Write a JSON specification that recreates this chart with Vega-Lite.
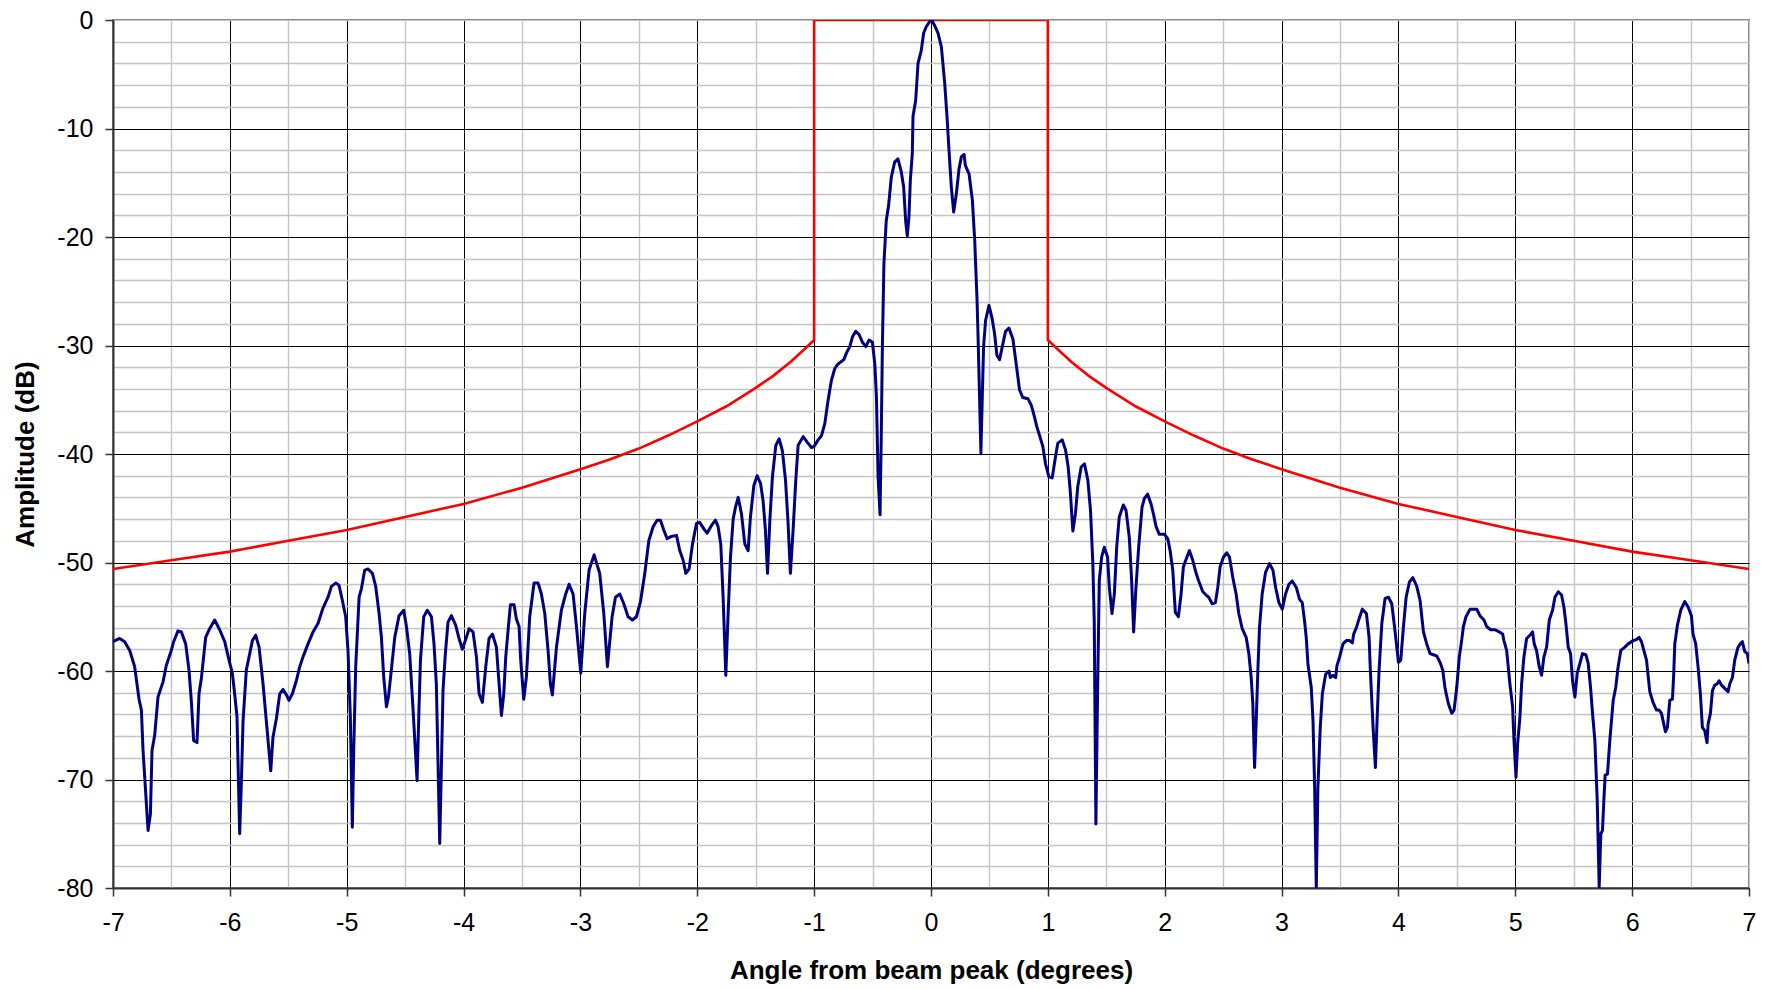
{
  "$schema": "https://vega.github.io/schema/vega-lite/v6.json",
  "width": 1636,
  "height": 868,
  "autosize": {"type": "none"},
  "padding": {"left": 113, "top": 20, "right": 20, "bottom": 101},
  "background": "white",
  "config": {
    "view": {"stroke": "#8c8c8c", "strokeWidth": 2},
    "axis": {
      "labelFont": "Liberation Sans",
      "titleFont": "Liberation Sans",
      "labelFontSize": 25,
      "titleFontSize": 26,
      "titleFontWeight": "bold",
      "labelColor": "#000",
      "titleColor": "#000",
      "domainColor": "#333",
      "domainWidth": 2,
      "tickColor": "#333",
      "tickWidth": 1.5,
      "tickSize": 8,
      "gridWidth": 1.2
    }
  },
  "datasets": {
    "mask": [
      {"i": 0, "x": -7, "y": -50.6}, {"i": 1, "x": -6.5, "y": -49.8}, {"i": 2, "x": -6, "y": -49.0},
      {"i": 3, "x": -5.5, "y": -48.0}, {"i": 4, "x": -5, "y": -47.0}, {"i": 5, "x": -4.5, "y": -45.8},
      {"i": 6, "x": -4, "y": -44.6}, {"i": 7, "x": -3.5, "y": -43.1}, {"i": 8, "x": -3, "y": -41.4},
      {"i": 9, "x": -2.75, "y": -40.5}, {"i": 10, "x": -2.5, "y": -39.5}, {"i": 11, "x": -2.25, "y": -38.3},
      {"i": 12, "x": -2, "y": -37.0}, {"i": 13, "x": -1.75, "y": -35.6}, {"i": 14, "x": -1.5, "y": -33.9},
      {"i": 15, "x": -1.35, "y": -32.8}, {"i": 16, "x": -1.2, "y": -31.5}, {"i": 17, "x": -1.1, "y": -30.5},
      {"i": 18, "x": -1, "y": -29.5}, {"i": 19, "x": -1, "y": 0}, {"i": 20, "x": 1, "y": 0},
      {"i": 21, "x": 1, "y": -29.5}, {"i": 22, "x": 1.1, "y": -30.5}, {"i": 23, "x": 1.2, "y": -31.5},
      {"i": 24, "x": 1.35, "y": -32.8}, {"i": 25, "x": 1.5, "y": -33.9}, {"i": 26, "x": 1.75, "y": -35.6},
      {"i": 27, "x": 2, "y": -37.0}, {"i": 28, "x": 2.25, "y": -38.3}, {"i": 29, "x": 2.5, "y": -39.5},
      {"i": 30, "x": 2.75, "y": -40.5}, {"i": 31, "x": 3, "y": -41.4}, {"i": 32, "x": 3.5, "y": -43.1},
      {"i": 33, "x": 4, "y": -44.6}, {"i": 34, "x": 4.5, "y": -45.8}, {"i": 35, "x": 5, "y": -47.0},
      {"i": 36, "x": 5.5, "y": -48.0}, {"i": 37, "x": 6, "y": -49.0}, {"i": 38, "x": 6.5, "y": -49.8},
      {"i": 39, "x": 7, "y": -50.6}
    ],
    "pattern": [
      {"x": -7.000, "y": -57.3}, {"x": -6.943, "y": -57.0}, {"x": -6.900, "y": -57.3}, {"x": -6.857, "y": -58.1},
      {"x": -6.815, "y": -59.6}, {"x": -6.777, "y": -62.6}, {"x": -6.757, "y": -63.6}, {"x": -6.743, "y": -67.3},
      {"x": -6.700, "y": -74.7}, {"x": -6.680, "y": -73.2}, {"x": -6.666, "y": -67.3}, {"x": -6.643, "y": -65.9},
      {"x": -6.615, "y": -62.4}, {"x": -6.572, "y": -61.0}, {"x": -6.544, "y": -59.5}, {"x": -6.501, "y": -58.1},
      {"x": -6.481, "y": -57.3}, {"x": -6.444, "y": -56.3}, {"x": -6.415, "y": -56.4}, {"x": -6.378, "y": -57.5},
      {"x": -6.350, "y": -59.9}, {"x": -6.330, "y": -62.7}, {"x": -6.310, "y": -66.4}, {"x": -6.281, "y": -66.6},
      {"x": -6.264, "y": -62.1}, {"x": -6.244, "y": -60.7}, {"x": -6.207, "y": -56.9}, {"x": -6.173, "y": -56.1},
      {"x": -6.130, "y": -55.3}, {"x": -6.087, "y": -56.2}, {"x": -6.044, "y": -57.3}, {"x": -6.007, "y": -59.0},
      {"x": -5.979, "y": -60.2}, {"x": -5.959, "y": -62.1}, {"x": -5.939, "y": -64.2}, {"x": -5.916, "y": -75.0},
      {"x": -5.902, "y": -70.4}, {"x": -5.887, "y": -64.6}, {"x": -5.859, "y": -59.9}, {"x": -5.830, "y": -58.4},
      {"x": -5.807, "y": -57.2}, {"x": -5.779, "y": -56.7}, {"x": -5.750, "y": -57.8}, {"x": -5.716, "y": -61.2},
      {"x": -5.688, "y": -64.6}, {"x": -5.650, "y": -69.2}, {"x": -5.631, "y": -66.1}, {"x": -5.602, "y": -64.4},
      {"x": -5.573, "y": -62.1}, {"x": -5.545, "y": -61.7}, {"x": -5.516, "y": -62.2}, {"x": -5.494, "y": -62.7},
      {"x": -5.465, "y": -62.1}, {"x": -5.431, "y": -60.9}, {"x": -5.402, "y": -59.6}, {"x": -5.374, "y": -58.7},
      {"x": -5.331, "y": -57.5}, {"x": -5.288, "y": -56.4}, {"x": -5.245, "y": -55.6}, {"x": -5.203, "y": -54.2},
      {"x": -5.160, "y": -53.2}, {"x": -5.131, "y": -52.2}, {"x": -5.094, "y": -51.9}, {"x": -5.066, "y": -52.1},
      {"x": -5.037, "y": -53.5}, {"x": -5.009, "y": -55.0}, {"x": -4.989, "y": -58.1}, {"x": -4.969, "y": -64.2},
      {"x": -4.952, "y": -74.4}, {"x": -4.940, "y": -67.3}, {"x": -4.923, "y": -59.6}, {"x": -4.894, "y": -53.2},
      {"x": -4.874, "y": -52.4}, {"x": -4.846, "y": -50.7}, {"x": -4.817, "y": -50.6}, {"x": -4.780, "y": -51.0},
      {"x": -4.752, "y": -52.2}, {"x": -4.723, "y": -54.7}, {"x": -4.703, "y": -56.9}, {"x": -4.683, "y": -60.6},
      {"x": -4.660, "y": -63.3}, {"x": -4.643, "y": -62.4}, {"x": -4.618, "y": -59.9}, {"x": -4.589, "y": -56.9},
      {"x": -4.552, "y": -54.9}, {"x": -4.512, "y": -54.4}, {"x": -4.489, "y": -55.9}, {"x": -4.461, "y": -58.4},
      {"x": -4.432, "y": -63.6}, {"x": -4.398, "y": -70.1}, {"x": -4.381, "y": -63.3}, {"x": -4.369, "y": -59.0},
      {"x": -4.341, "y": -55.0}, {"x": -4.310, "y": -54.4}, {"x": -4.275, "y": -55.0}, {"x": -4.253, "y": -57.5},
      {"x": -4.233, "y": -61.2}, {"x": -4.204, "y": -75.9}, {"x": -4.190, "y": -68.9}, {"x": -4.176, "y": -61.8},
      {"x": -4.156, "y": -58.4}, {"x": -4.133, "y": -55.5}, {"x": -4.104, "y": -54.9}, {"x": -4.067, "y": -55.8},
      {"x": -4.039, "y": -57.0}, {"x": -4.010, "y": -58.0}, {"x": -3.976, "y": -56.9}, {"x": -3.953, "y": -56.1},
      {"x": -3.919, "y": -56.4}, {"x": -3.890, "y": -58.7}, {"x": -3.867, "y": -62.1}, {"x": -3.839, "y": -62.9},
      {"x": -3.810, "y": -59.6}, {"x": -3.782, "y": -57.0}, {"x": -3.753, "y": -56.6}, {"x": -3.719, "y": -57.8},
      {"x": -3.696, "y": -61.2}, {"x": -3.676, "y": -64.1}, {"x": -3.656, "y": -62.1}, {"x": -3.639, "y": -58.7},
      {"x": -3.619, "y": -56.2}, {"x": -3.599, "y": -53.9}, {"x": -3.568, "y": -53.9}, {"x": -3.548, "y": -55.2},
      {"x": -3.525, "y": -55.9}, {"x": -3.511, "y": -59.0}, {"x": -3.485, "y": -62.6}, {"x": -3.462, "y": -60.5},
      {"x": -3.434, "y": -55.0}, {"x": -3.397, "y": -51.9}, {"x": -3.362, "y": -51.9}, {"x": -3.334, "y": -52.9},
      {"x": -3.305, "y": -54.7}, {"x": -3.277, "y": -58.1}, {"x": -3.257, "y": -61.2}, {"x": -3.240, "y": -62.2},
      {"x": -3.205, "y": -57.8}, {"x": -3.163, "y": -54.4}, {"x": -3.126, "y": -52.9}, {"x": -3.097, "y": -52.0},
      {"x": -3.063, "y": -52.9}, {"x": -3.034, "y": -55.9}, {"x": -2.997, "y": -60.2}, {"x": -2.963, "y": -54.7},
      {"x": -2.926, "y": -50.7}, {"x": -2.883, "y": -49.3}, {"x": -2.835, "y": -51.0}, {"x": -2.800, "y": -54.7},
      {"x": -2.769, "y": -59.6}, {"x": -2.729, "y": -55.0}, {"x": -2.700, "y": -53.2}, {"x": -2.663, "y": -52.9},
      {"x": -2.629, "y": -53.8}, {"x": -2.592, "y": -55.0}, {"x": -2.555, "y": -55.3}, {"x": -2.521, "y": -55.0},
      {"x": -2.486, "y": -53.6}, {"x": -2.449, "y": -51.0}, {"x": -2.415, "y": -48.0}, {"x": -2.378, "y": -46.7},
      {"x": -2.344, "y": -46.1}, {"x": -2.315, "y": -46.1}, {"x": -2.287, "y": -47.0}, {"x": -2.258, "y": -47.8},
      {"x": -2.221, "y": -47.6}, {"x": -2.178, "y": -47.5}, {"x": -2.150, "y": -48.9}, {"x": -2.121, "y": -49.8},
      {"x": -2.098, "y": -51.0}, {"x": -2.070, "y": -50.6}, {"x": -2.041, "y": -48.3}, {"x": -2.007, "y": -46.4},
      {"x": -1.979, "y": -46.3}, {"x": -1.944, "y": -46.9}, {"x": -1.916, "y": -47.3}, {"x": -1.879, "y": -46.6},
      {"x": -1.845, "y": -46.1}, {"x": -1.822, "y": -46.7}, {"x": -1.799, "y": -48.3}, {"x": -1.779, "y": -53.2},
      {"x": -1.756, "y": -60.4}, {"x": -1.736, "y": -54.7}, {"x": -1.716, "y": -49.5}, {"x": -1.693, "y": -46.0},
      {"x": -1.673, "y": -44.9}, {"x": -1.650, "y": -44.0}, {"x": -1.622, "y": -45.5}, {"x": -1.593, "y": -48.3},
      {"x": -1.565, "y": -48.9}, {"x": -1.545, "y": -45.8}, {"x": -1.516, "y": -42.9}, {"x": -1.488, "y": -42.0},
      {"x": -1.459, "y": -42.7}, {"x": -1.437, "y": -44.3}, {"x": -1.417, "y": -47.0}, {"x": -1.399, "y": -51.0},
      {"x": -1.379, "y": -46.1}, {"x": -1.357, "y": -42.1}, {"x": -1.328, "y": -39.2}, {"x": -1.299, "y": -38.6},
      {"x": -1.272, "y": -39.7}, {"x": -1.245, "y": -42.4}, {"x": -1.223, "y": -46.4}, {"x": -1.203, "y": -51.0},
      {"x": -1.180, "y": -47.0}, {"x": -1.157, "y": -42.4}, {"x": -1.137, "y": -39.2}, {"x": -1.094, "y": -38.4},
      {"x": -1.060, "y": -38.9}, {"x": -1.023, "y": -39.4}, {"x": -1.000, "y": -39.3}, {"x": -0.966, "y": -38.7},
      {"x": -0.937, "y": -38.3}, {"x": -0.909, "y": -37.2}, {"x": -0.880, "y": -35.0}, {"x": -0.852, "y": -33.2},
      {"x": -0.823, "y": -32.1}, {"x": -0.795, "y": -31.7}, {"x": -0.746, "y": -31.3}, {"x": -0.724, "y": -30.7},
      {"x": -0.695, "y": -30.1}, {"x": -0.672, "y": -29.2}, {"x": -0.644, "y": -28.7}, {"x": -0.615, "y": -29.0},
      {"x": -0.587, "y": -29.7}, {"x": -0.558, "y": -30.1}, {"x": -0.530, "y": -29.5}, {"x": -0.501, "y": -29.7},
      {"x": -0.481, "y": -31.7}, {"x": -0.467, "y": -34.7}, {"x": -0.453, "y": -42.1}, {"x": -0.436, "y": -45.6},
      {"x": -0.425, "y": -37.8}, {"x": -0.416, "y": -30.1}, {"x": -0.403, "y": -22.5}, {"x": -0.383, "y": -18.5},
      {"x": -0.363, "y": -17.1}, {"x": -0.340, "y": -14.5}, {"x": -0.311, "y": -13.1}, {"x": -0.283, "y": -12.8},
      {"x": -0.254, "y": -14.0}, {"x": -0.234, "y": -15.4}, {"x": -0.217, "y": -18.5}, {"x": -0.203, "y": -19.9},
      {"x": -0.189, "y": -18.2}, {"x": -0.177, "y": -14.8}, {"x": -0.160, "y": -12.3}, {"x": -0.154, "y": -8.9},
      {"x": -0.131, "y": -7.4}, {"x": -0.111, "y": -4.0}, {"x": -0.083, "y": -2.8}, {"x": -0.063, "y": -1.2},
      {"x": -0.040, "y": -0.6}, {"x": -0.011, "y": -0.15}, {"x": 0.009, "y": -0.06}, {"x": 0.031, "y": -0.5},
      {"x": 0.060, "y": -1.2}, {"x": 0.089, "y": -2.5}, {"x": 0.117, "y": -5.8}, {"x": 0.137, "y": -8.9},
      {"x": 0.154, "y": -12.0}, {"x": 0.174, "y": -15.4}, {"x": 0.194, "y": -17.7}, {"x": 0.217, "y": -16.0},
      {"x": 0.240, "y": -13.7}, {"x": 0.260, "y": -12.6}, {"x": 0.283, "y": -12.4}, {"x": 0.294, "y": -13.4},
      {"x": 0.326, "y": -14.2}, {"x": 0.354, "y": -16.6}, {"x": 0.374, "y": -20.3}, {"x": 0.394, "y": -25.8},
      {"x": 0.405, "y": -30.1}, {"x": 0.427, "y": -39.9}, {"x": 0.439, "y": -34.7}, {"x": 0.450, "y": -30.1},
      {"x": 0.467, "y": -27.7}, {"x": 0.496, "y": -26.3}, {"x": 0.521, "y": -27.4}, {"x": 0.544, "y": -28.9},
      {"x": 0.564, "y": -30.9}, {"x": 0.587, "y": -31.3}, {"x": 0.610, "y": -30.1}, {"x": 0.638, "y": -28.7},
      {"x": 0.667, "y": -28.4}, {"x": 0.701, "y": -29.4}, {"x": 0.729, "y": -31.7}, {"x": 0.758, "y": -34.1},
      {"x": 0.786, "y": -34.8}, {"x": 0.829, "y": -34.9}, {"x": 0.858, "y": -35.5}, {"x": 0.886, "y": -36.6},
      {"x": 0.906, "y": -37.5}, {"x": 0.929, "y": -38.3}, {"x": 0.957, "y": -39.3}, {"x": 0.980, "y": -40.9},
      {"x": 1.009, "y": -42.1}, {"x": 1.037, "y": -42.2}, {"x": 1.066, "y": -40.2}, {"x": 1.085, "y": -39.0},
      {"x": 1.123, "y": -38.7}, {"x": 1.151, "y": -39.6}, {"x": 1.174, "y": -41.2}, {"x": 1.191, "y": -43.3},
      {"x": 1.214, "y": -47.1}, {"x": 1.236, "y": -45.5}, {"x": 1.256, "y": -43.0}, {"x": 1.285, "y": -41.2},
      {"x": 1.313, "y": -40.9}, {"x": 1.342, "y": -42.4}, {"x": 1.365, "y": -45.2}, {"x": 1.385, "y": -50.1},
      {"x": 1.397, "y": -55.4}, {"x": 1.411, "y": -74.1}, {"x": 1.426, "y": -61.5}, {"x": 1.440, "y": -51.7},
      {"x": 1.460, "y": -49.5}, {"x": 1.483, "y": -48.6}, {"x": 1.511, "y": -49.5}, {"x": 1.526, "y": -52.3},
      {"x": 1.549, "y": -54.7}, {"x": 1.569, "y": -52.9}, {"x": 1.589, "y": -48.6}, {"x": 1.611, "y": -45.8},
      {"x": 1.646, "y": -44.7}, {"x": 1.669, "y": -45.2}, {"x": 1.697, "y": -47.7}, {"x": 1.717, "y": -51.7},
      {"x": 1.734, "y": -56.4}, {"x": 1.754, "y": -52.3}, {"x": 1.777, "y": -48.6}, {"x": 1.806, "y": -44.9},
      {"x": 1.826, "y": -44.1}, {"x": 1.854, "y": -43.7}, {"x": 1.883, "y": -44.6}, {"x": 1.903, "y": -45.5},
      {"x": 1.926, "y": -46.7}, {"x": 1.954, "y": -47.4}, {"x": 1.997, "y": -47.4}, {"x": 2.026, "y": -47.8},
      {"x": 2.046, "y": -48.9}, {"x": 2.069, "y": -50.7}, {"x": 2.091, "y": -54.6}, {"x": 2.117, "y": -55.0},
      {"x": 2.140, "y": -52.9}, {"x": 2.160, "y": -50.4}, {"x": 2.183, "y": -49.7}, {"x": 2.211, "y": -48.9},
      {"x": 2.240, "y": -49.8}, {"x": 2.269, "y": -51.0}, {"x": 2.291, "y": -51.7}, {"x": 2.326, "y": -52.7},
      {"x": 2.354, "y": -53.0}, {"x": 2.377, "y": -53.2}, {"x": 2.406, "y": -53.8}, {"x": 2.434, "y": -53.7},
      {"x": 2.454, "y": -52.3}, {"x": 2.474, "y": -50.4}, {"x": 2.503, "y": -49.5}, {"x": 2.531, "y": -49.1},
      {"x": 2.554, "y": -49.5}, {"x": 2.583, "y": -51.4}, {"x": 2.611, "y": -52.9}, {"x": 2.634, "y": -54.7},
      {"x": 2.663, "y": -56.1}, {"x": 2.697, "y": -56.9}, {"x": 2.720, "y": -58.4}, {"x": 2.740, "y": -60.6},
      {"x": 2.754, "y": -63.0}, {"x": 2.769, "y": -68.9}, {"x": 2.783, "y": -64.6}, {"x": 2.797, "y": -60.0},
      {"x": 2.811, "y": -56.0}, {"x": 2.834, "y": -52.9}, {"x": 2.863, "y": -50.9}, {"x": 2.897, "y": -50.1},
      {"x": 2.926, "y": -50.7}, {"x": 2.949, "y": -52.3}, {"x": 2.977, "y": -53.7}, {"x": 3.006, "y": -54.3},
      {"x": 3.034, "y": -52.9}, {"x": 3.063, "y": -52.0}, {"x": 3.091, "y": -51.7}, {"x": 3.126, "y": -52.3},
      {"x": 3.154, "y": -53.4}, {"x": 3.177, "y": -53.7}, {"x": 3.197, "y": -55.4}, {"x": 3.211, "y": -56.9},
      {"x": 3.226, "y": -59.4}, {"x": 3.254, "y": -61.5}, {"x": 3.269, "y": -64.6}, {"x": 3.283, "y": -70.7},
      {"x": 3.297, "y": -80.0}, {"x": 3.311, "y": -70.7}, {"x": 3.331, "y": -65.2}, {"x": 3.349, "y": -62.1},
      {"x": 3.377, "y": -60.3}, {"x": 3.406, "y": -60.0}, {"x": 3.417, "y": -60.6}, {"x": 3.440, "y": -60.4},
      {"x": 3.463, "y": -60.6}, {"x": 3.474, "y": -59.5}, {"x": 3.497, "y": -58.7}, {"x": 3.511, "y": -58.1},
      {"x": 3.526, "y": -57.5}, {"x": 3.554, "y": -57.2}, {"x": 3.583, "y": -57.2}, {"x": 3.606, "y": -57.4},
      {"x": 3.617, "y": -56.6}, {"x": 3.640, "y": -56.0}, {"x": 3.663, "y": -55.2}, {"x": 3.691, "y": -54.3},
      {"x": 3.726, "y": -54.7}, {"x": 3.749, "y": -56.9}, {"x": 3.760, "y": -60.0}, {"x": 3.783, "y": -65.2},
      {"x": 3.803, "y": -68.9}, {"x": 3.817, "y": -64.6}, {"x": 3.834, "y": -60.0}, {"x": 3.858, "y": -55.6},
      {"x": 3.886, "y": -53.3}, {"x": 3.915, "y": -53.2}, {"x": 3.943, "y": -53.8}, {"x": 3.963, "y": -55.6},
      {"x": 3.980, "y": -57.2}, {"x": 4.000, "y": -59.2}, {"x": 4.020, "y": -59.0}, {"x": 4.043, "y": -55.9},
      {"x": 4.066, "y": -53.2}, {"x": 4.094, "y": -51.8}, {"x": 4.123, "y": -51.4}, {"x": 4.157, "y": -52.2},
      {"x": 4.185, "y": -53.5}, {"x": 4.214, "y": -56.4}, {"x": 4.242, "y": -57.5}, {"x": 4.271, "y": -58.4},
      {"x": 4.299, "y": -58.5}, {"x": 4.328, "y": -58.6}, {"x": 4.356, "y": -59.2}, {"x": 4.379, "y": -59.9},
      {"x": 4.399, "y": -61.6}, {"x": 4.427, "y": -63.0}, {"x": 4.456, "y": -63.9}, {"x": 4.476, "y": -63.6},
      {"x": 4.499, "y": -61.5}, {"x": 4.521, "y": -58.7}, {"x": 4.541, "y": -57.2}, {"x": 4.556, "y": -55.9},
      {"x": 4.578, "y": -55.0}, {"x": 4.613, "y": -54.3}, {"x": 4.670, "y": -54.3}, {"x": 4.698, "y": -54.9},
      {"x": 4.732, "y": -55.3}, {"x": 4.755, "y": -55.9}, {"x": 4.789, "y": -56.2}, {"x": 4.826, "y": -56.2},
      {"x": 4.863, "y": -56.4}, {"x": 4.892, "y": -56.6}, {"x": 4.903, "y": -57.2}, {"x": 4.926, "y": -58.1},
      {"x": 4.954, "y": -61.2}, {"x": 4.977, "y": -63.3}, {"x": 4.989, "y": -66.4}, {"x": 5.006, "y": -69.8},
      {"x": 5.020, "y": -66.7}, {"x": 5.040, "y": -64.2}, {"x": 5.054, "y": -61.2}, {"x": 5.074, "y": -58.7},
      {"x": 5.097, "y": -57.0}, {"x": 5.125, "y": -56.7}, {"x": 5.148, "y": -56.4}, {"x": 5.162, "y": -57.5},
      {"x": 5.182, "y": -58.1}, {"x": 5.205, "y": -59.6}, {"x": 5.225, "y": -60.4}, {"x": 5.245, "y": -58.7},
      {"x": 5.268, "y": -57.8}, {"x": 5.291, "y": -55.3}, {"x": 5.319, "y": -54.4}, {"x": 5.339, "y": -53.2},
      {"x": 5.368, "y": -52.7}, {"x": 5.396, "y": -53.0}, {"x": 5.416, "y": -54.1}, {"x": 5.433, "y": -55.6},
      {"x": 5.453, "y": -57.8}, {"x": 5.473, "y": -58.4}, {"x": 5.490, "y": -60.9}, {"x": 5.510, "y": -62.4},
      {"x": 5.530, "y": -60.2}, {"x": 5.553, "y": -59.3}, {"x": 5.575, "y": -58.4}, {"x": 5.604, "y": -58.5},
      {"x": 5.624, "y": -59.3}, {"x": 5.644, "y": -61.5}, {"x": 5.661, "y": -63.9}, {"x": 5.681, "y": -66.4},
      {"x": 5.701, "y": -71.9}, {"x": 5.718, "y": -79.9}, {"x": 5.732, "y": -75.0}, {"x": 5.746, "y": -74.7},
      {"x": 5.758, "y": -71.9}, {"x": 5.769, "y": -69.6}, {"x": 5.789, "y": -69.5}, {"x": 5.809, "y": -66.4},
      {"x": 5.838, "y": -62.7}, {"x": 5.860, "y": -61.5}, {"x": 5.880, "y": -59.6}, {"x": 5.903, "y": -58.1},
      {"x": 5.937, "y": -57.8}, {"x": 5.966, "y": -57.5}, {"x": 6.009, "y": -57.2}, {"x": 6.037, "y": -57.1},
      {"x": 6.060, "y": -56.9}, {"x": 6.080, "y": -57.3}, {"x": 6.100, "y": -58.1}, {"x": 6.123, "y": -59.0},
      {"x": 6.151, "y": -61.9}, {"x": 6.179, "y": -62.9}, {"x": 6.208, "y": -63.6}, {"x": 6.231, "y": -63.6},
      {"x": 6.251, "y": -63.9}, {"x": 6.271, "y": -64.9}, {"x": 6.285, "y": -65.6}, {"x": 6.302, "y": -65.2},
      {"x": 6.322, "y": -62.7}, {"x": 6.345, "y": -62.6}, {"x": 6.356, "y": -60.2}, {"x": 6.365, "y": -57.5},
      {"x": 6.387, "y": -55.8}, {"x": 6.416, "y": -54.4}, {"x": 6.450, "y": -53.6}, {"x": 6.479, "y": -54.1},
      {"x": 6.507, "y": -54.9}, {"x": 6.521, "y": -56.6}, {"x": 6.544, "y": -57.5}, {"x": 6.564, "y": -59.6},
      {"x": 6.584, "y": -62.1}, {"x": 6.601, "y": -65.2}, {"x": 6.621, "y": -65.5}, {"x": 6.641, "y": -66.6},
      {"x": 6.650, "y": -64.9}, {"x": 6.670, "y": -63.9}, {"x": 6.687, "y": -61.8}, {"x": 6.707, "y": -61.3},
      {"x": 6.726, "y": -61.2}, {"x": 6.744, "y": -60.9}, {"x": 6.764, "y": -61.3}, {"x": 6.792, "y": -61.6},
      {"x": 6.821, "y": -61.9}, {"x": 6.835, "y": -61.2}, {"x": 6.858, "y": -60.6}, {"x": 6.878, "y": -59.0},
      {"x": 6.906, "y": -57.8}, {"x": 6.926, "y": -57.5}, {"x": 6.943, "y": -57.3}, {"x": 6.963, "y": -58.2},
      {"x": 6.986, "y": -58.4}, {"x": 7.000, "y": -59.3}
    ]
  },
  "encoding": {
    "x": {
      "field": "x",
      "type": "quantitative",
      "scale": {"domain": [-7, 7], "nice": false, "zero": false},
      "axis": {
        "title": "Angle from beam peak (degrees)",
        "values": [-7, -6.5, -6, -5.5, -5, -4.5, -4, -3.5, -3, -2.5, -2, -1.5, -1, -0.5, 0, 0.5, 1, 1.5, 2, 2.5, 3, 3.5, 4, 4.5, 5, 5.5, 6, 6.5, 7],
        "labelExpr": "datum.value % 1 === 0 ? '' + datum.value : ''",
        "labelPadding": 14,
        "labelFlush": false,
        "labelOverlap": false,
        "titlePadding": 22,
        "tickOpacity": {"condition": {"test": "datum.value % 1 === 0", "value": 1}, "value": 0},
        "gridColor": {"condition": {"test": "datum.value % 1 === 0 && datum.value < 7", "value": "#000000"}, "value": "#c4c4c4"},
        "gridWidth": {"condition": {"test": "datum.value % 1 === 0", "value": 1}, "value": 1.4}
      }
    },
    "y": {
      "field": "y",
      "type": "quantitative",
      "scale": {"domain": [-80, 0], "nice": false, "zero": false},
      "axis": {
        "title": "Amplitude (dB)",
        "values": [-80, -78, -76, -74, -72, -70, -68, -66, -64, -62, -60, -58, -56, -54, -52, -50, -48, -46, -44, -42, -40, -38, -36, -34, -32, -30, -28, -26, -24, -22, -20, -18, -16, -14, -12, -10, -8, -6, -4, -2, 0],
        "labelExpr": "datum.value % 10 === 0 ? '' + datum.value : ''",
        "labelPadding": 12,
        "labelFlush": false,
        "labelOverlap": false,
        "titlePadding": 18,
        "tickOpacity": {"condition": {"test": "datum.value % 10 === 0", "value": 1}, "value": 0},
        "gridColor": {"condition": {"test": "datum.value % 10 === 0 && datum.value < 0", "value": "#000000"}, "value": "#c4c4c4"},
        "gridWidth": {"condition": {"test": "datum.value % 10 === 0", "value": 1}, "value": 1.4}
      }
    }
  },
  "layer": [
    {
      "data": {"name": "mask"},
      "mark": {"type": "line", "color": "#ff0000", "strokeWidth": 2.6, "clip": true},
      "encoding": {"order": {"field": "i", "type": "quantitative"}}
    },
    {
      "data": {"name": "pattern"},
      "mark": {"type": "line", "color": "#000080", "strokeWidth": 3, "clip": true, "strokeJoin": "round"},
      "encoding": {}
    }
  ]
}
